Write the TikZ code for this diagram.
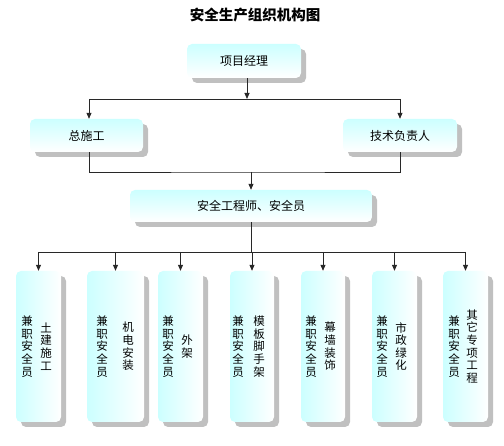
\documentclass[tikz,border=0pt]{standalone}
\usepackage{fontspec}
\setmainfont{Noto Sans CJK SC}
\usetikzlibrary{arrows.meta,shadows}
\definecolor{boxcyan}{RGB}{204,255,255}
\definecolor{shadowgray}{RGB}{192,192,192}
\definecolor{linecol}{RGB}{40,40,40}
\begin{document}
\begin{tikzpicture}[x=1pt,y=-1pt,
  boxbase/.style={rounded corners=5pt, inner sep=0pt, draw=none,
    drop shadow={shadow xshift=5pt, shadow yshift=-5pt, fill=shadowgray, opacity=1}},
  hbox/.style={boxbase, top color=boxcyan, bottom color=white,
    font=\fontsize{12}{14}\selectfont},
  vbox/.style={boxbase, left color=boxcyan, right color=white,
    minimum height=151pt},
  vtext/.style={align=center, inner sep=0pt, font=\fontsize{11.5}{12.6}\selectfont},
  conn/.style={draw=linecol, line width=0.8pt},
  arr/.style={conn, -{Triangle[length=6pt,width=5pt]}}
]
\useasboundingbox (0,0) rectangle (504,446);

\node[font=\fontsize{14.5}{16}\selectfont\bfseries] (title) at (255,15) {安全生产组织机构图};

\node[hbox, minimum width=114pt, minimum height=34pt] (pm) at (244,61) {项目经理};
\node[hbox, minimum width=113pt, minimum height=33pt] (zs) at (86.5,135.5) {总施工};
\node[hbox, minimum width=114pt, minimum height=33pt] (js) at (400,135.5) {技术负责人};
\node[hbox, minimum width=242pt, minimum height=32pt] (aq) at (251,206) {安全工程师、安全员};

\node[vbox, minimum width=45pt] (b1) at (38.5,346.5) {};
\node[vbox, minimum width=57pt] (b2) at (115.5,346.5) {};
\node[vbox, minimum width=45pt] (b3) at (180.5,346.5) {};
\node[vbox, minimum width=44pt] (b4) at (252,346.5) {};
\node[vbox, minimum width=44pt] (b5) at (323,346.5) {};
\node[vbox, minimum width=45pt] (b6) at (394.5,346.5) {};
\node[vbox, minimum width=45pt] (b7) at (465.5,346.5) {};

\node[vtext] (t1a) at ([xshift=-11.5pt]b1.center) {兼\\职\\安\\全\\员};
\node[vtext] (t1b) at ([xshift=7.5pt]b1.center) {土\\建\\施\\工};
\node[vtext] (t2a) at ([xshift=-13.5pt]b2.center) {兼\\职\\安\\全\\员};
\node[vtext] (t2b) at ([xshift=12.5pt]b2.center) {机\\电\\安\\装};
\node[vtext] (t3a) at ([xshift=-12.5pt]b3.center) {兼\\职\\安\\全\\员};
\node[vtext] (t3b) at ([xshift=6.5pt]b3.center) {外\\架};
\node[vtext] (t4a) at ([xshift=-14pt]b4.center) {兼\\职\\安\\全\\员};
\node[vtext] (t4b) at ([xshift=7pt]b4.center) {模\\板\\脚\\手\\架};
\node[vtext] (t5a) at ([xshift=-12pt]b5.center) {兼\\职\\安\\全\\员};
\node[vtext] (t5b) at ([xshift=7pt]b5.center) {幕\\墙\\装\\饰};
\node[vtext] (t6a) at ([xshift=-12.5pt]b6.center) {兼\\职\\安\\全\\员};
\node[vtext] (t6b) at ([xshift=6.5pt]b6.center) {市\\政\\绿\\化};
\node[vtext] (t7a) at ([xshift=-11.5pt]b7.center) {兼\\职\\安\\全\\员};
\node[vtext] (t7b) at ([xshift=6.5pt]b7.center) {其\\它\\专\\项\\工\\程};

% level 1 -> 2
\coordinate (j1) at (247,99);
\coordinate (l1) at (89,99);
\coordinate (r1) at (400,99);
\draw[arr] (pm.south -| j1) -- (j1);
\draw[conn] (l1) -- (r1);
\draw[arr] (l1) -- (zs.north -| l1);
\draw[arr] (r1) -- (js.north -| r1);

% level 2 -> 3
\coordinate (m2) at (251,172);
\draw[conn] (zs.south -| l1) |- (m2) -| (js.south -| r1);
\draw[arr] (m2) -- (aq.north -| m2);

% level 3 -> 4
\coordinate (m3) at (251,252);
\draw[conn] (aq.south -| m3) -- (m3);
\draw[conn] (b1.north |- m3) -- (b7.north |- m3);
\foreach \b in {b1,b2,b3,b4,b5,b6,b7}{
  \draw[arr] (\b.north |- m3) -- (\b.north);
}
\end{tikzpicture}
\end{document}
